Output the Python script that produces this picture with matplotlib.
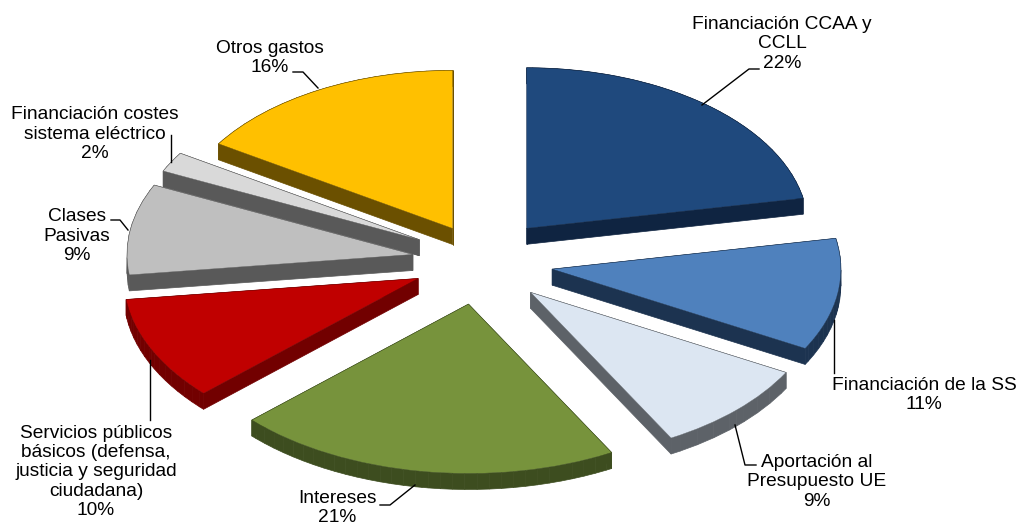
import matplotlib
matplotlib.use('Agg')
import matplotlib.pyplot as plt
from matplotlib.patches import Polygon

plt.rcParams['font.family'] = ['Liberation Sans', 'DejaVu Sans']

labels = ['Financiación CCAA y\nCCLL', 'Financiación de la SS', 'Aportación al\nPresupuesto UE', 'Intereses',
          'Servicios públicos\nbásicos (defensa,\njusticia y seguridad\nciudadana)', 'Clases\nPasivas',
          'Financiación costes\nsistema eléctrico', 'Otros gastos']
shares = [22, 11, 9, 21, 10, 9, 2, 16]

explode = [0.247, 0.244, 0.258, 0.283, 0.269, 0.258, 0.261, 0.244]
colors = ['#1f497d', '#4f81bd', '#dce6f2', '#77933c', '#c00000', '#bfbfbf', '#d9d9d9', '#ffc000']
side_colors = ['#0f2441', '#1c3350', '#5d6268', '#3d4d1f', '#720000', '#595959', '#595959', '#6b5000']
draw_order = [7, 0, 6, 5, 1, 2, 4, 3]

W, H = 1018, 526
tilt = 0.57
radius = 283
depth = 16 / tilt
center = (485, (H - 260) / tilt)

# fake perspective: back slices a bit smaller, front ones bigger, plus small pixel nudges
radius_scale = [0.995, 1.02, 1.03, 1.05, 1.04, 1.01, 1.0, 0.98]
nudge = [(-3, -1), (-1, 3), (-6, 3), (-4, -1), (2, 0), (0, 1), (-1, 0), (1, 3)]

# label centre and leader line, all in image pixels
label_pos = [(782, 44), (924, 395), (817, 482), (337, 508), (96, 472), (77, 236), (95, 134), (270, 58)]
leaders = [
    [(702, 105), (749, 69), (759, 69)],
    [(834, 320), (834, 373)],
    [(735, 425), (745, 465), (756, 465)],
    [(415, 485), (390, 505), (380, 505)],
    [(150, 360), (150, 420)],
    [(128, 230), (120, 220), (111, 220)],
    [(171, 135), (171, 162)],
    [(318, 88), (303, 72), (293, 72)],
]

fig = plt.figure(figsize=(W / 100, H / 100), dpi=100)
ax = fig.add_axes([0, 0, 1, 1])
# pie takes explode in data units, so scale the fractions by the radius
wedges, _ = ax.pie(shares, explode=[e * radius for e in explode], colors=colors, radius=radius, center=center,
                   startangle=90, counterclock=False)
# the tilt comes from the y scale: one data unit in y is only tilt pixels
ax.set_aspect('auto')
ax.set_xlim(0, W)
ax.set_ylim(0, H / tilt)
ax.axis('off')

for z, i in enumerate(draw_order):
    w = wedges[i]
    w.set_radius(radius * radius_scale[i])
    w.set_center((w.center[0] + nudge[i][0], w.center[1] - nudge[i][1] / tilt))
    w.set_zorder(10 + 2 * z + 1)
    w.set_edgecolor(side_colors[i])
    w.set_linewidth(0.3)
    pts = w.get_path().to_polygons()[0]
    # side walls, one quad per outline segment
    for a, b in zip(pts[:-1], pts[1:]):
        quad = [a, b, (b[0], b[1] - depth), (a[0], a[1] - depth)]
        ax.add_patch(Polygon(quad, closed=True, facecolor=side_colors[i], edgecolor=side_colors[i],
                             linewidth=0.5, zorder=10 + 2 * z))

for i, (x, y) in enumerate(label_pos):
    fig.text(x / W, 1 - y / H, f'{labels[i]}\n{shares[i]}%', ha='center', va='center',
             fontsize=13.8, color='black', linespacing=1.18, zorder=50)

for line in leaders:
    fig.add_artist(plt.Line2D([p[0] / W for p in line], [1 - p[1] / H for p in line],
                              color='black', linewidth=1.0, zorder=40))

fig.savefig('out.png', dpi=100)
